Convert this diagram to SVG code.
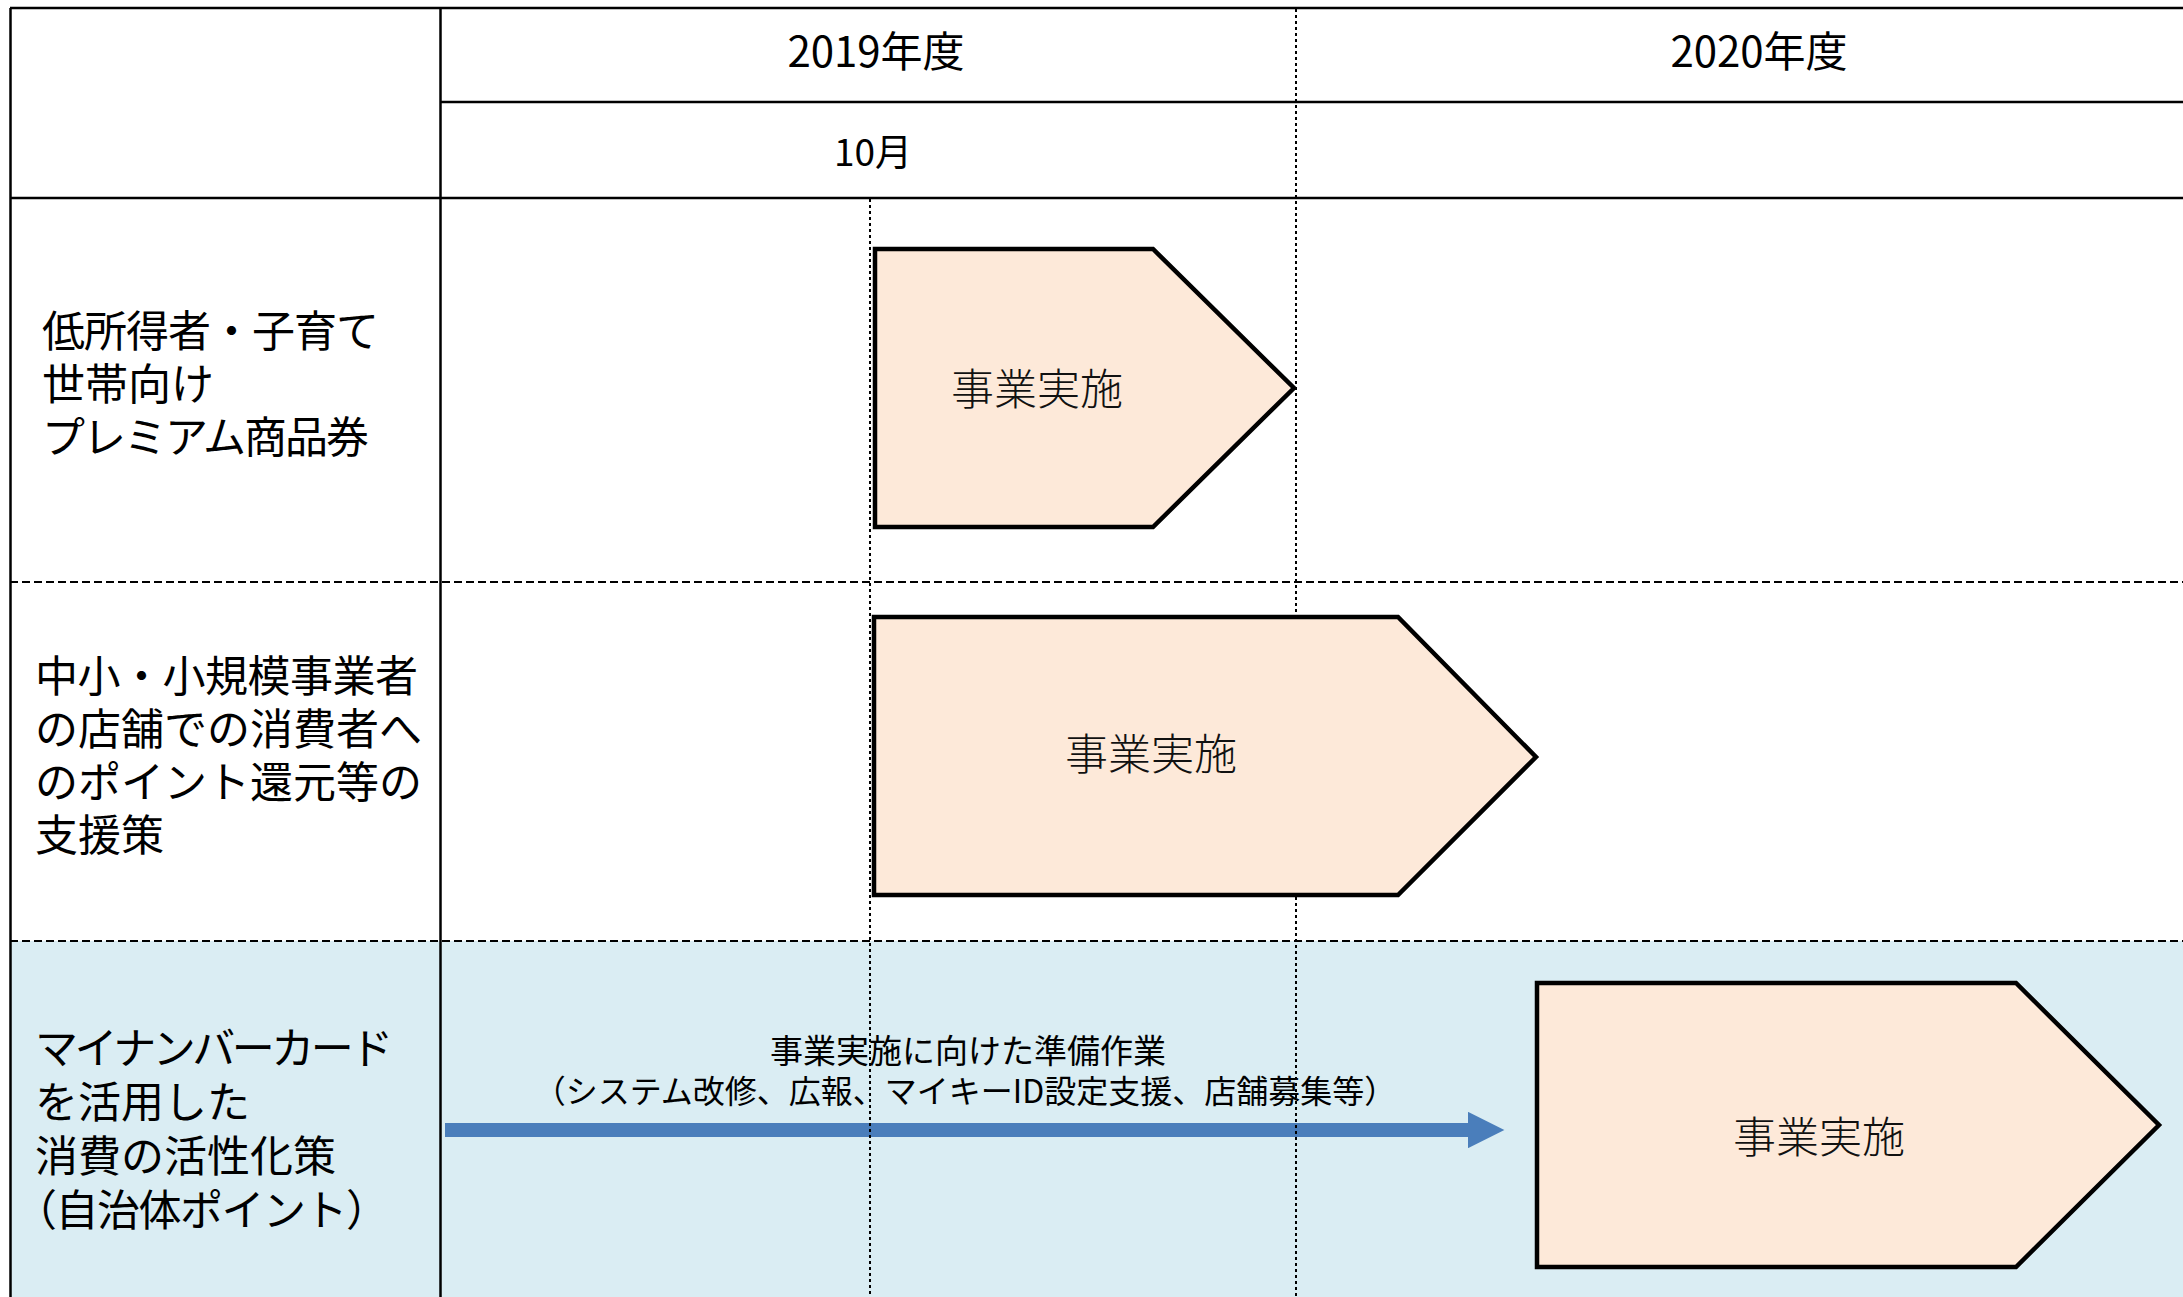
<svg xmlns="http://www.w3.org/2000/svg" width="2183" height="1297" viewBox="0 0 2183 1297">
<style>
.g{font-family:"Noto Sans CJK JP","Noto Sans",sans-serif;fill:#000}
.hd{font-size:42px;text-anchor:middle}
.lb{font-size:43px}
.bx{fill:#fde9d9;stroke:#000;stroke-width:4.5;stroke-linejoin:miter}
.bt{font-family:"Noto Sans CJK JP",serif;font-size:43px;font-weight:300;text-anchor:middle;fill:#111}
.solid{stroke:#000;stroke-width:2.5;fill:none}
.dash{stroke:#000;stroke-width:2;stroke-dasharray:8 4;fill:none}
.dot{stroke:#000;stroke-width:2;stroke-dasharray:3 3;fill:none}
.at{font-family:"Noto Sans CJK JP",sans-serif;text-anchor:middle;fill:#000}
</style>
<defs>
<marker id="ah" viewBox="0 0 10 10" refX="0" refY="5" markerWidth="2.9" markerHeight="2.6" markerUnits="strokeWidth" orient="auto"><path d="M0,0 L10,5 L0,10 Z" fill="#4a7ebb"/></marker>
</defs>
<rect x="0" y="0" width="2183" height="1297" fill="#fff"/>
<rect x="10" y="941" width="2173" height="356" fill="#daedf3"/>

<g id="connectors">
<line x1="445" y1="1130" x2="1468" y2="1130" stroke="#4a7ebb" stroke-width="14" marker-end="url(#ah)"/>
<text class="at" x="968" y="1063" font-size="33">事業実施に向けた準備作業</text>
<text class="at" x="965" y="1103" font-size="32">（システム改修、広報、マイキーID設定支援、店舗募集等）</text>
</g>

<g id="grid">
<line class="solid" x1="10" y1="8" x2="2183" y2="8"/>
<line class="solid" x1="10.5" y1="8" x2="10.5" y2="1297"/>
<line class="solid" x1="440.5" y1="8" x2="440.5" y2="1297"/>
<line class="solid" x1="440" y1="102" x2="2183" y2="102"/>
<line class="solid" x1="10" y1="198" x2="2183" y2="198"/>
<line class="dash" x1="10" y1="582" x2="2183" y2="582"/>
<line class="dash" x1="10" y1="941" x2="2183" y2="941"/>
<line class="dot" x1="1296" y1="9" x2="1296" y2="1297"/>
<line class="dot" x1="870" y1="199" x2="870" y2="1297"/>
</g>

<g id="header-2019"><text class="g hd" x="876" y="67">2019年度</text></g>
<g id="header-2020"><text class="g hd" x="1759" y="67">2020年度</text></g>
<g id="header-10"><text class="g" x="873" y="166" font-size="37" text-anchor="middle">10月</text></g>

<g id="label-row1">
<text class="g lb" x="42" y="347" letter-spacing="-1">低所得者・子育て</text>
<text class="g lb" x="42" y="400">世帯向け</text>
<text class="g lb" x="42" y="453" letter-spacing="-2">プレミアム商品券</text>
</g>
<g id="label-row2">
<text class="g lb" x="35" y="692" letter-spacing="-0.5">中小・小規模事業者</text>
<text class="g lb" x="35" y="745">の店舗での消費者へ</text>
<text class="g lb" x="35" y="798">のポイント還元等の</text>
<text class="g lb" x="35" y="851">支援策</text>
</g>
<g id="label-row3">
<text class="g lb" x="35" y="1064" letter-spacing="-3.5">マイナンバーカード</text>
<text class="g lb" x="35" y="1118">を活用した</text>
<text class="g lb" x="35" y="1172">消費の活性化策</text>
<text class="g lb" x="14" y="1226" letter-spacing="-1.5">（自治体ポイント）</text>
</g>

<g id="box-row1">
<path class="bx" d="M875,249 L1153,249 L1294,388 L1153,527 L875,527 Z"/>
<text class="bt" x="1037" y="405">事業実施</text>
</g>
<g id="box-row2">
<path class="bx" d="M874,617 L1398,617 L1536,757 L1398,895 L874,895 Z"/>
<text class="bt" x="1151" y="770">事業実施</text>
</g>
<g id="box-row3">
<path class="bx" d="M1537,983 L2016,983 L2159,1125 L2016,1267 L1537,1267 Z"/>
<text class="bt" x="1819" y="1153">事業実施</text>
</g>
</svg>
